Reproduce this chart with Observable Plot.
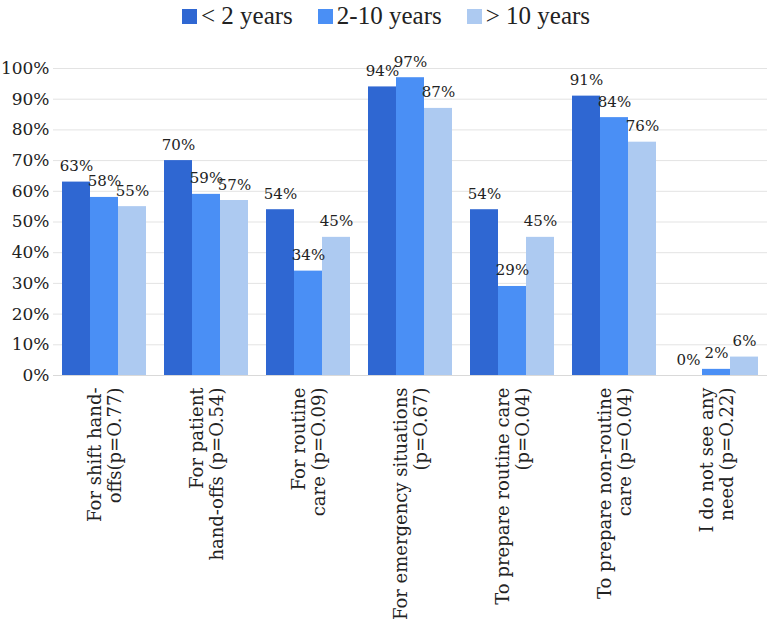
<!DOCTYPE html>
<html>
<head>
<meta charset="utf-8">
<script src="https://cdn.jsdelivr.net/npm/d3@7"></script>
<script src="https://cdn.jsdelivr.net/npm/@observablehq/plot@0.6"></script>
<style>
  body { margin: 0; background: #fff; }
  #legend { position: relative; height: 32px; font-family: "Liberation Serif", serif; font-size: 25px; color: #222; }
  #legend .row { position: absolute; left: 182px; top: 0; height: 32px; display: flex; align-items: center; }
  #legend .item { display: flex; align-items: center; margin-right: 25px; }
  #legend i { display: inline-block; width: 15px; height: 15px; margin-right: 4px; }
  #chart svg, #chart svg text { font-family: "DejaVu Serif", serif !important; }
</style>
</head>
<body>
<div id="legend"><div class="row"></div></div>
<div id="chart"></div>
<script>
const categories = [
  "For shift hand-\noffs(p=O.77)",
  "For patient\nhand-offs (p=O.54)",
  "For routine\ncare (p=O.09)",
  "For emergency situations\n(p=O.67)",
  "To prepare routine care\n(p=O.04)",
  "To prepare non-routine\ncare (p=O.04)",
  "I do not see any\nneed (p=O.22)"
];
const seriesNames = ["< 2 years", "2-10 years", "> 10 years"];
const seriesColors = ["#2f67d2", "#4a8ff5", "#adcaf1"];
const under2 = [63, 70, 54, 94, 54, 91, 0];
const from2to10 = [58, 59, 34, 97, 29, 84, 2];
const over10 = [55, 57, 45, 87, 45, 76, 6];
const yTicks = [0, 10, 20, 30, 40, 50, 60, 70, 80, 90, 100];

const seriesValues = [under2, from2to10, over10];
const data = [];
categories.forEach((c, i) => seriesNames.forEach((s, j) => data.push({cat: c, series: s, value: seriesValues[j][i]})));

const row = document.querySelector("#legend .row");
seriesNames.forEach((s, j) => {
  const it = document.createElement("span"); it.className = "item";
  const sw = document.createElement("i"); sw.style.background = seriesColors[j];
  const t = document.createElement("span"); t.textContent = s;
  it.append(sw, t); row.append(it);
});

const font = "'DejaVu Serif', serif";
const chart = Plot.plot({
  width: 777,
  height: 591,
  marginTop: 36,
  marginBottom: 248,
  marginLeft: 53,
  marginRight: 10,
  style: {fontFamily: font, fontSize: "18px", color: "#222", background: "#fff", overflow: "visible"},
  fx: {domain: categories, padding: 0, label: null},
  x: {domain: seriesNames, paddingInner: 0, paddingOuter: 0.265, axis: null},
  y: {domain: [0, 100], label: null},
  color: {domain: seriesNames, range: seriesColors},
  marks: [
    Plot.gridY(yTicks.filter(d => d > 0), {stroke: "#e3e3e3", strokeOpacity: 1, strokeWidth: 1}),
    Plot.axisY(yTicks, {tickSize: 0, tickPadding: 4, tickFormat: d => d + "%", fontSize: 17, fontFamily: font, label: null}),
    Plot.axisFx({anchor: "bottom", tickSize: 0, tickPadding: 12, tickRotate: -90, fontSize: 18, fontFamily: font, lineHeight: 1.15, label: null}),
    Plot.barY(data, {fx: "cat", x: "series", y: "value", fill: "series"}),
    Plot.ruleY([0], {stroke: "#d9d9d9", strokeWidth: 1}),
    Plot.text(data, {fx: "cat", x: "series", y: "value", text: d => d.value + "%", lineAnchor: "bottom", dy: -11, fontSize: 15, fontFamily: font, fill: "#222"})
  ]
});
document.getElementById("chart").append(chart);
</script>
</body>
</html>
